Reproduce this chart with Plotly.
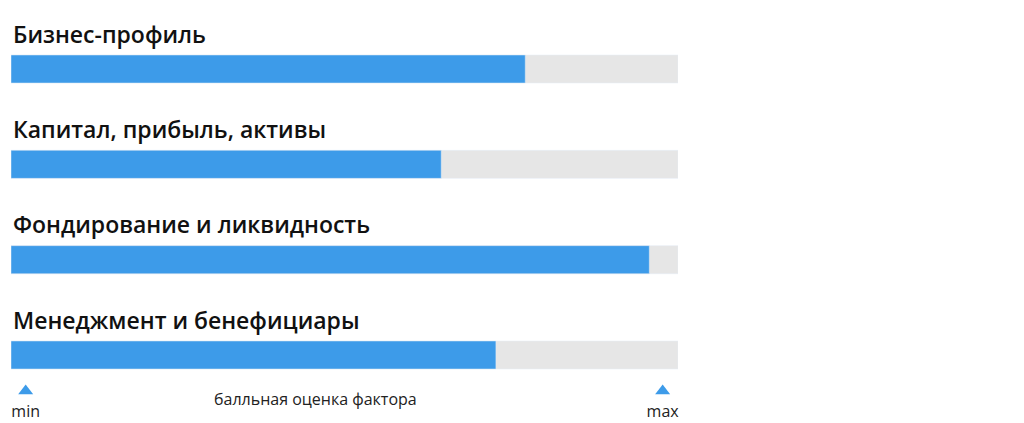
import plotly.graph_objects as go

categories = ["Бизнес-профиль", "Капитал, прибыль, активы",
              "Фондирование и ликвидность", "Менеджмент и бенефициары"]
scores = [0.771, 0.645, 0.957, 0.727]
scale_max = 1.0
scale_labels = ["min", "max"]
axis_caption = "балльная оценка фактора"

BLUE = "#3d9be9"
GRAY = "#e6e6e6"
pos = list(range(len(categories)))

fig = go.Figure()
fig.add_trace(go.Bar(x=[scale_max] * len(pos), y=pos, orientation="h",
                     marker_color=GRAY, width=0.294, hoverinfo="skip"))
fig.add_trace(go.Bar(x=scores, y=pos, orientation="h",
                     marker_color=BLUE, width=0.294, text=categories,
                     hoverinfo="text", textposition="none"))
fig.add_trace(go.Scatter(x=[0.022, 0.977], y=[3.378, 3.378], mode="markers",
                         marker=dict(symbol="triangle-up", size=13, color=BLUE),
                         hoverinfo="skip", cliponaxis=False))
fig.add_trace(go.Scatter(x=[0.022, 0.977], y=[3.61, 3.61], mode="text",
                         text=scale_labels, textfont=dict(size=16, color="#222"),
                         hoverinfo="skip", cliponaxis=False))

for i, c in enumerate(categories):
    fig.add_annotation(x=0, y=i - 0.37, text=c, showarrow=False, xanchor="left",
                       xshift=0, font=dict(size=23, color="#111", family="Open Sans", weight=600))
fig.add_annotation(x=0.456, y=3.46, text=axis_caption, showarrow=False,
                   font=dict(size=16, color="#222"))

fig.update_layout(
    width=1024, height=423, margin=dict(l=3, r=354, t=0, b=0, autoexpand=False),
    barmode="overlay", showlegend=False,
    plot_bgcolor="white", paper_bgcolor="white",
    font=dict(family="Open Sans"),
    xaxis=dict(range=[0, 1], visible=False),
    yaxis=dict(range=[3.797, -0.64], visible=False),
)
fig.write_html("out.html")
